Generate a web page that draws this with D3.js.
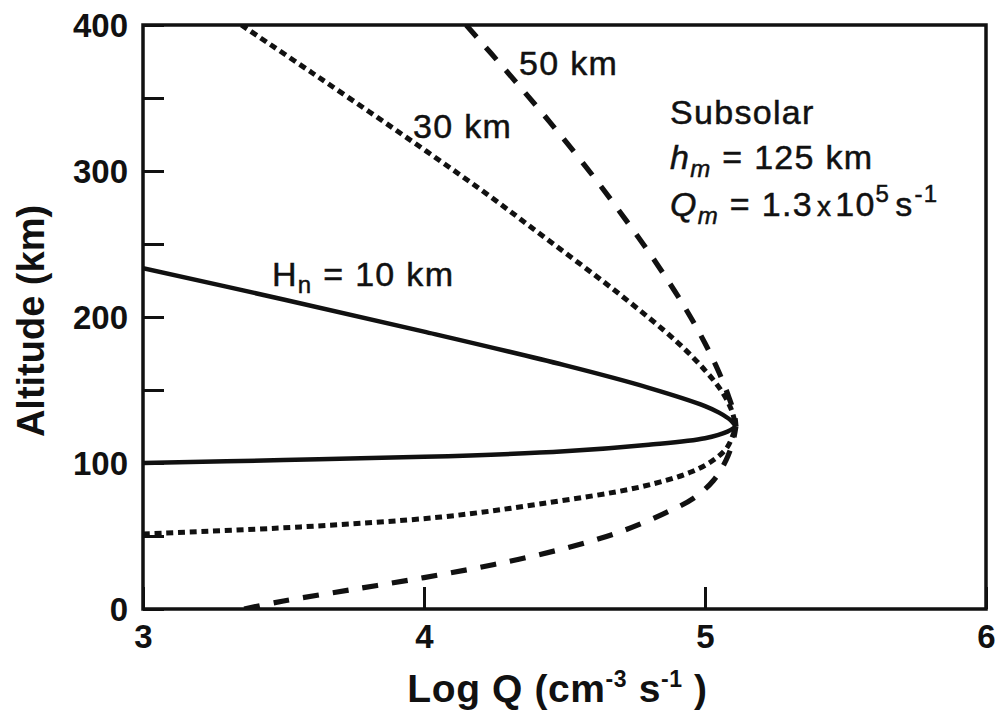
<!DOCTYPE html>
<html>
<head>
<meta charset="utf-8">
<script src="https://cdn.jsdelivr.net/npm/d3@7"></script>
<style>
  html, body { margin: 0; padding: 0; background: #fff; }
  svg { display: block; }
  text { font-family: "Liberation Sans", Arial, Helvetica, sans-serif; fill: #111; }
</style>
</head>
<body>
<svg id="chart" width="1000" height="713"></svg>
<script>
// Chapman production profiles, subsolar case: [log Q, altitude km]
// Each profile is split at its peak into an upper and a lower branch.
const hn10Upper = [[3.00, 233.5], [3.50, 212], [4.00, 190], [4.50, 167], [4.80, 151.5], [5.00, 139], [5.05, 134.5], [5.09, 129.5], [5.11, 125]];
const hn10Lower = [[3.00, 100], [3.50, 102], [4.00, 104.2], [4.50, 108], [4.80, 112.5], [5.00, 117], [5.08, 121.5], [5.11, 125]];
const hn30Upper = [[3.35, 400], [3.60, 367.5], [3.90, 328], [4.20, 287.5], [4.45, 251.5], [4.70, 215], [4.90, 183], [5.00, 163.5], [5.06, 149], [5.095, 136], [5.11, 125]];
const hn30Lower = [[3.00, 51.4], [3.56, 56.2], [4.06, 63.0], [4.41, 71.9], [4.77, 83.6], [4.95, 93.8], [5.03, 102], [5.08, 111], [5.11, 125]];
const hn50Upper = [[4.15, 400], [4.30, 367], [4.45, 333], [4.60, 297], [4.72, 266], [4.83, 236], [4.93, 206], [5.00, 182], [5.05, 162], [5.085, 145], [5.105, 133], [5.11, 125]];
const hn50Lower = [[3.36, 0], [3.50, 5.5], [3.75, 13.5], [4.00, 21.5], [4.25, 30.5], [4.50, 41.5], [4.70, 53], [4.85, 65], [4.96, 76], [5.03, 88], [5.075, 102], [5.10, 115], [5.11, 125]];

const xTicks = [3, 4, 5, 6];
const yTicks = [0, 50, 100, 150, 200, 250, 300, 350, 400];
const yLabelled = [0, 100, 200, 300, 400];

const profiles = [
  { name: "10 km", upper: hn10Upper, lower: hn10Lower, width: 4.5, dash: null },
  { name: "30 km", upper: hn30Upper, lower: hn30Lower, width: 5, dash: "7,4.7" },
  { name: "50 km", upper: hn50Upper, lower: hn50Lower, width: 5.2, dash: "16,14" }
];

const margin = { left: 143, right: 14, top: 25, bottom: 104 };
const W = 1000, H = 713;
const svg = d3.select("#chart");

const x = d3.scaleLinear().domain([3, 6]).range([margin.left, W - margin.right]);
const y = d3.scaleLinear().domain([0, 400]).range([H - margin.bottom, margin.top]);

svg.append("defs").append("clipPath").attr("id", "plot-clip")
  .append("rect")
  .attr("x", x(3)).attr("y", y(400))
  .attr("width", x(6) - x(3)).attr("height", y(0) - y(400));

// Profiles
const line = d3.line()
  .x(d => x(d[0]))
  .y(d => y(d[1]))
  .curve(d3.curveCatmullRom.alpha(0.5));

const curves = svg.append("g").attr("clip-path", "url(#plot-clip)");
profiles.forEach(p => {
  [p.upper, p.lower].forEach(branch => {
    curves.append("path")
      .attr("d", line(branch))
      .attr("fill", "none")
      .attr("stroke", "#111")
      .attr("stroke-width", p.width)
      .attr("stroke-dasharray", p.dash)
      .attr("stroke-linejoin", "round");
  });
});

// Axes (ticks point inward)
const yAxis = d3.axisLeft(y)
  .tickValues(yTicks)
  .tickSize(-21)
  .tickPadding(15)
  .tickFormat(d => yLabelled.includes(d) ? d : "");

const xAxis = d3.axisBottom(x)
  .tickValues(xTicks)
  .tickSize(-22)
  .tickPadding(16)
  .tickFormat(d3.format("d"));

const gy = svg.append("g").attr("transform", `translate(${x(3)},0)`).call(yAxis);
const gx = svg.append("g").attr("transform", `translate(0,${y(0)})`).call(xAxis);

[gx, gy].forEach(g => {
  g.select(".domain").remove();
  g.selectAll(".tick line").attr("stroke", "#111").attr("stroke-width", 3);
  g.selectAll(".tick text")
    .attr("fill", "#111")
    .style("font-size", "33px")
    .style("font-weight", "bold")
    .style("font-family", "'Liberation Sans', Arial, sans-serif");
});
gy.selectAll(".tick text").attr("dy", "0.36em");

// Frame
svg.append("rect")
  .attr("x", x(3)).attr("y", y(400))
  .attr("width", x(6) - x(3)).attr("height", y(0) - y(400))
  .attr("fill", "none")
  .attr("stroke", "#111")
  .attr("stroke-width", 3.5);

// Axis titles
svg.append("text")
  .attr("transform", `translate(44,${(y(0) + y(400)) / 2 + 4}) rotate(-90)`)
  .attr("text-anchor", "middle")
  .style("font-size", "38px")
  .style("font-weight", "bold")
  .text("Altitude (km)");

const xt = svg.append("text")
  .attr("x", (x(3) + x(6)) / 2 - 7)
  .attr("y", 702)
  .attr("text-anchor", "middle")
  .style("font-size", "39px")
  .style("font-weight", "bold")
  .style("letter-spacing", "0.6px");
xt.append("tspan").text("Log Q (cm");
xt.append("tspan").attr("dy", -15).style("font-size", "23px").text("-3");
xt.append("tspan").attr("dy", 15).text(" s");
xt.append("tspan").attr("dy", -15).style("font-size", "23px").text("-1");
xt.append("tspan").attr("dy", 15).text(" )");

// Curve labels
const labelStyle = sel => sel
  .style("font-size", "34px")
  .style("letter-spacing", "1.3px")
  .attr("stroke", "#111")
  .attr("stroke-width", 0.5);

const l10 = svg.append("text").attr("x", 272).attr("y", 286).call(labelStyle);
l10.append("tspan").text("H");
l10.append("tspan").attr("dy", 7).style("font-size", "24px").text("n");
l10.append("tspan").attr("dy", -7).text(" = 10 km");

svg.append("text").attr("x", 413).attr("y", 138).call(labelStyle).text("30 km");
svg.append("text").attr("x", 519).attr("y", 75).call(labelStyle).text("50 km");

// Conditions block
const info = svg.append("g").attr("transform", "translate(670,0)");
info.append("text").attr("y", 124).call(labelStyle).text("Subsolar");

const hm = info.append("text").attr("y", 169).call(labelStyle);
hm.append("tspan").style("font-style", "italic").text("h");
hm.append("tspan").attr("dy", 8).style("font-size", "24px").style("font-style", "italic").text("m");
hm.append("tspan").attr("dy", -8).text(" = 125 km");

const qm = info.append("text").attr("y", 216).call(labelStyle);
qm.append("tspan").style("font-style", "italic").text("Q");
qm.append("tspan").attr("dy", 8).style("font-size", "24px").style("font-style", "italic").text("m");
qm.append("tspan").attr("dy", -8).text(" = 1.3");
qm.append("tspan").attr("dx", 4).style("font-size", "28px").text("x");
qm.append("tspan").attr("dx", 3).text("10");
qm.append("tspan").attr("dy", -14).style("font-size", "24px").text("5");
qm.append("tspan").attr("dy", 14).attr("dx", 5).text("s");
qm.append("tspan").attr("dy", -14).attr("dx", 1).style("font-size", "24px").text("-1");
</script>
</body>
</html>
